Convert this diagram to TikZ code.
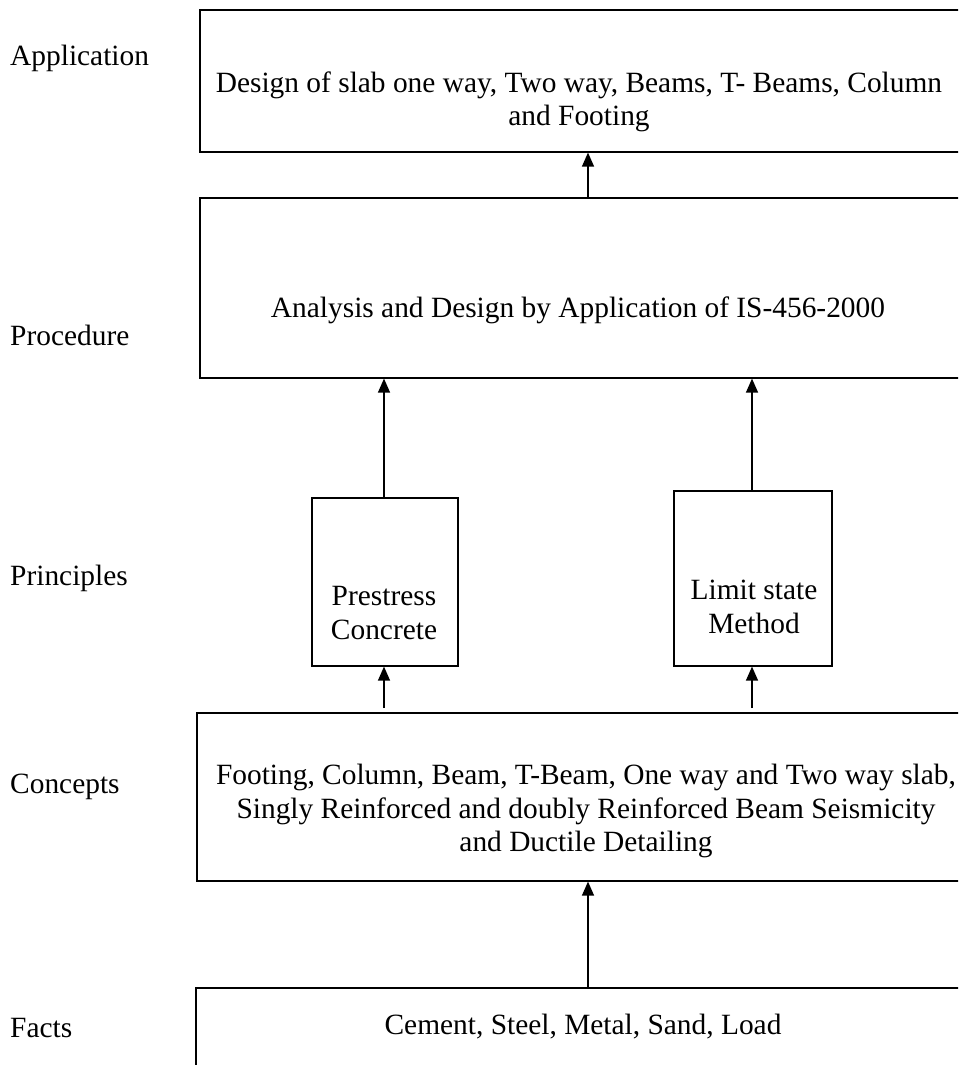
\documentclass[tikz,border=0pt]{standalone}
\usepackage{fontspec}
\setmainfont{Liberation Serif}
\usetikzlibrary{arrows.meta,calc}
\begin{document}
\begin{tikzpicture}[x=1pt,y=-1pt,
  font=\fontsize{29.4}{33.5}\selectfont,
  box/.style={draw, line width=1.6pt, inner sep=0pt, anchor=north west},
  txt/.style={align=center, inner sep=0pt},
  lbl/.style={anchor=west, inner sep=0pt},
  arr/.style={line width=1.3pt, -{Triangle[length=14pt,width=12pt]}}]
\clip (0,0) rectangle (958,1065);
% labels
\node[lbl] (lApp) at (10,58) {Application};
\node[lbl] (lProc) at (10,335) {Procedure};
\node[lbl] (lPrin) at (10,578) {Principles};
\node[lbl] (lConc) at (10,787) {Concepts};
\node[lbl] (lFacts) at (10,1028) {Facts};
% boxes
\node[box, minimum width=763pt, minimum height=142pt] (app) at (199,9) {};
\node[box, minimum width=763pt, minimum height=180pt] (proc) at (199,197) {};
\node[box, minimum width=146pt, minimum height=168pt] (pre) at (311,497) {};
\node[box, minimum width=158pt, minimum height=175pt] (lim) at (673,490) {};
\node[box, minimum width=774pt, minimum height=168pt] (conc) at (196,712) {};
\node[box, minimum width=775pt, minimum height=120pt] (facts) at (195,987) {};
% box texts
\node[txt] (appT) at (579,102) {Design of slab one way, Two way, Beams, T- Beams, Column\\and Footing};
\node[txt] (procT) at (578,310) {Analysis and Design by Application of IS-456-2000};
\node[txt] (preT) at (384,613) {Prestress\\Concrete};
\node[txt] (limT) at (754,607) {Limit state\\Method};
\node[txt] (concT) at (586,811) {Footing, Column, Beam, T-Beam, One way and Two way slab,\\Singly Reinforced and doubly Reinforced Beam Seismicity\\and Ductile Detailing};
\node[txt] (factsT) at (583,1027) {Cement, Steel, Metal, Sand, Load};
% arrow x positions
\coordinate (xa) at (588,0);
\coordinate (xb) at (384,0);
\coordinate (xc) at (752,0);
% connectors
\draw[arr] (proc.north -| xa) -- (app.south -| xa);
\draw[arr] (pre.north -| xb) -- (proc.south -| xb);
\draw[arr] (lim.north -| xc) -- (proc.south -| xc);
\draw[arr, shorten <=4pt] (conc.north -| xb) -- (pre.south -| xb);
\draw[arr, shorten <=4pt] (conc.north -| xc) -- (lim.south -| xc);
\draw[arr] (facts.north -| xa) -- (conc.south -| xa);
\end{tikzpicture}
\end{document}
